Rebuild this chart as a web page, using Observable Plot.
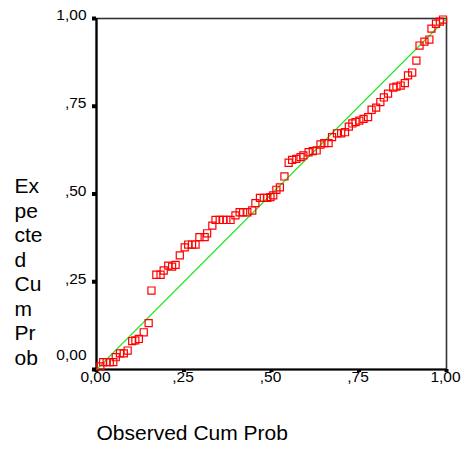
<!DOCTYPE html>
<html>
<head>
<meta charset="utf-8">
<script src="https://cdn.jsdelivr.net/npm/d3@7"></script>
<script src="https://cdn.jsdelivr.net/npm/@observablehq/plot@0.6"></script>
<style>
  body { margin: 0; background: #fff; }
  svg { font-family: "Liberation Sans", Arial, sans-serif; }
</style>
</head>
<body>
<div id="chart"></div>
<script>
// Observed cumulative probability (x) and expected cumulative probability (y)
const observed = [
  0.011, 0.019, 0.029, 0.038, 0.048, 0.055, 0.067, 0.078, 0.089, 0.102,
  0.111, 0.121, 0.135, 0.149, 0.157, 0.171, 0.183, 0.192, 0.205, 0.216,
  0.226, 0.238, 0.252, 0.262, 0.273, 0.283, 0.294, 0.309, 0.316, 0.331,
  0.340, 0.352, 0.362, 0.371, 0.383, 0.397, 0.409, 0.419, 0.431, 0.445,
  0.454, 0.467, 0.478, 0.488, 0.497, 0.505, 0.514, 0.524, 0.537, 0.549,
  0.559, 0.571, 0.583, 0.591, 0.606, 0.618, 0.629, 0.640, 0.651, 0.663,
  0.673, 0.687, 0.699, 0.710, 0.721, 0.731, 0.740, 0.751, 0.763, 0.776,
  0.786, 0.799, 0.811, 0.821, 0.833, 0.848, 0.857, 0.869, 0.881, 0.890,
  0.902, 0.914, 0.923, 0.937, 0.951, 0.957, 0.970, 0.981, 0.990
];
const expected = [
  0.009, 0.021, 0.021, 0.021, 0.021, 0.035, 0.046, 0.046, 0.054, 0.081,
  0.083, 0.087, 0.106, 0.132, 0.225, 0.270, 0.270, 0.282, 0.296, 0.293,
  0.298, 0.325, 0.348, 0.356, 0.356, 0.356, 0.377, 0.377, 0.388, 0.410,
  0.426, 0.426, 0.426, 0.426, 0.426, 0.439, 0.448, 0.448, 0.448, 0.453,
  0.474, 0.489, 0.489, 0.489, 0.491, 0.496, 0.512, 0.519, 0.550, 0.589,
  0.597, 0.600, 0.605, 0.610, 0.619, 0.622, 0.624, 0.641, 0.645, 0.645,
  0.662, 0.673, 0.673, 0.676, 0.692, 0.701, 0.705, 0.709, 0.714, 0.719,
  0.740, 0.746, 0.762, 0.775, 0.786, 0.803, 0.806, 0.809, 0.816, 0.838,
  0.846, 0.880, 0.923, 0.934, 0.940, 0.971, 0.985, 0.991, 0.997
];
const tickValues = [0, 0.25, 0.5, 0.75, 1];
const tickLabels = ["0,00", ",25", ",50", ",75", "1,00"];
const refLine = [0, 1];
const xTitle = "Observed Cum Prob";
const yTitle = "Ex\npe\ncte\nd\nCu\nm\nPr\nob";

const points = observed.map((x, i) => ({x, y: expected[i]}));
const ticks = tickValues.map((v, i) => ({v, label: tickLabels[i]}));

const chart = Plot.plot({
  width: 465,
  height: 450,
  marginLeft: 96,
  marginRight: 19,
  marginTop: 18,
  marginBottom: 81,
  x: {domain: [0, 1], axis: null},
  y: {domain: [0, 1], axis: null},
  style: {fontFamily: "'Liberation Sans', Arial, sans-serif", background: "#fff"},
  marks: [
    Plot.frame({stroke: "#333", strokeWidth: 1.6}),
    Plot.ruleX([0], {stroke: "#000", strokeWidth: 2.2}),
    Plot.ruleY([0], {stroke: "#000", strokeWidth: 2.2}),
    // tick markers
    Plot.axisY(tickValues, {tickSize: 4, strokeWidth: 4, stroke: "#000", tickFormat: () => "", label: null}),
    Plot.axisX(tickValues, {tickSize: 3, strokeWidth: 4, stroke: "#000", tickFormat: () => "", label: null}),
    // y tick labels
    Plot.text(ticks.filter(d => d.v !== 0), {y: "v", text: "label", frameAnchor: "left", textAnchor: "end", dx: -10, dy: -3, fontSize: 15.5, fill: "#000"}),
    Plot.text(ticks.filter(d => d.v === 0), {y: "v", text: "label", frameAnchor: "left", textAnchor: "end", dx: -10, dy: -14, fontSize: 15.5, fill: "#000"}),
    // x tick labels
    Plot.text(ticks, {x: "v", text: "label", frameAnchor: "bottom", dy: 12, dx: -1, fontSize: 15.5, fill: "#000"}),
    // titles
    Plot.text([xTitle], {text: d => d, frameAnchor: "bottom-left", textAnchor: "start", dy: 70, fontSize: 21, fill: "#000"}),
    Plot.text([yTitle], {text: d => d, frameAnchor: "top-left", textAnchor: "start", lineAnchor: "top", lineHeight: 1.17, dx: -82, dy: 157, fontSize: 21, fill: "#000"}),
    // reference line
    Plot.line(refLine, {x: d => d, y: d => d, stroke: "#22e622", strokeWidth: 1.1}),
    // points
    Plot.dot(points, {x: "x", y: "y", symbol: "square", r: 4, stroke: "#ff0000", strokeWidth: 1.2, fill: "none"})
  ]
});
document.getElementById("chart").append(chart);
</script>
</body>
</html>
